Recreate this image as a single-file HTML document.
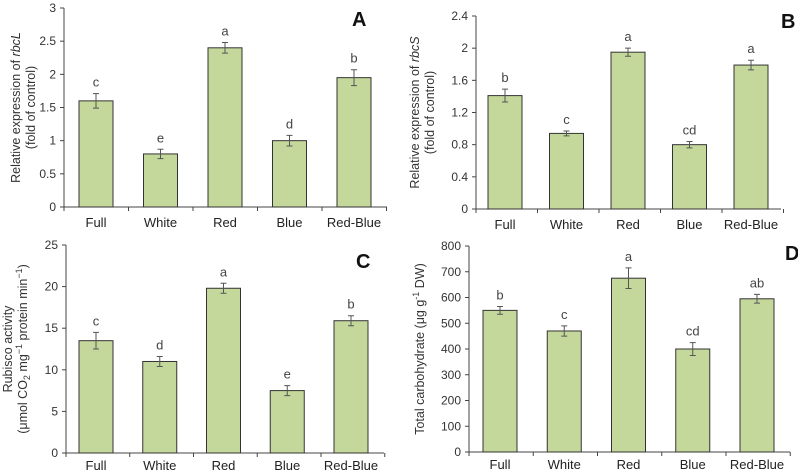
<!DOCTYPE html>
<html><head><meta charset="utf-8"><style>
body{margin:0;background:#fff;}
svg{display:block;font-family:"Liberation Sans",Arial,sans-serif;}
</style></head><body>
<svg id="fig" width="798" height="471" viewBox="0 0 798 471"></svg>
<script>
const categories=["Full","White","Red","Blue","Red-Blue"];
const valuesA=[1.6,0.8,2.4,1.0,1.95];
const errA=[0.11,0.07,0.08,0.08,0.12];
const lettersA=["c","e","a","d","b"];
const ticksA=[0,0.5,1,1.5,2,2.5,3];
const tickLabelsA=["0","0.5","1","1.5","2","2.5","3"];
const valuesB=[1.41,0.94,1.95,0.8,1.79];
const errB=[0.08,0.03,0.05,0.04,0.06];
const lettersB=["b","c","a","cd","a"];
const ticksB=[0,0.4,0.8,1.2,1.6,2,2.4];
const tickLabelsB=["0","0.4","0.8","1.2","1.6","2","2.4"];
const valuesC=[13.5,11.0,19.8,7.5,15.9];
const errC=[1.0,0.6,0.6,0.6,0.6];
const lettersC=["c","d","a","e","b"];
const ticksC=[0,5,10,15,20,25];
const tickLabelsC=["0","5","10","15","20","25"];
const valuesD=[550,470,675,400,595];
const errD=[15,20,40,25,17];
const lettersD=["b","c","a","cd","ab"];
const ticksD=[0,100,200,300,400,500,600,700,800];
const tickLabelsD=["0","100","200","300","400","500","600","700","800"];

const NS="http://www.w3.org/2000/svg";
const svg=document.getElementById('fig');
function mk(tag,attrs,parent,text){const e=document.createElementNS(NS,tag);for(const k in attrs)e.setAttribute(k,attrs[k]);if(text!==undefined)e.textContent=text;(parent||svg).appendChild(e);return e;}

function panel(cfg){
  const g=mk('g',{});
  
  
  const max=cfg.ticks[cfg.ticks.length-1];
  const y=v=>cfg.y0-(v/max)*(cfg.y0-cfg.yTop);
  const step=(cfg.cLast-cfg.cFirst)/(categories.length-1);
  const x=i=>cfg.cFirst+i*step;
  const ya=mk('line',{x1:cfg.x0,y1:cfg.yTop,x2:cfg.x0,y2:cfg.y0,stroke:'#444','stroke-width':1},g);
  
  const xa=mk('line',{x1:cfg.x0,y1:cfg.y0,x2:cfg.xEnd,y2:cfg.y0,stroke:'#444','stroke-width':1},g);
  
  cfg.ticks.forEach((t,i)=>{
    mk('line',{x1:cfg.x0-4,y1:y(t),x2:cfg.x0,y2:y(t),stroke:'#444'},g);
    const tl=mk('text',{x:cfg.x0-8,y:y(t)+4,'text-anchor':'end','font-size':12,fill:'#333'},g,cfg.tickLabels[i]);
    
  });
  for(let i=0;i<=categories.length;i++){
    const xx=cfg.x0+ (i)*step;
    mk('line',{x1:xx,y1:cfg.y0,x2:xx,y2:cfg.y0+4,stroke:'#444'},g);
  }
  categories.forEach((c,i)=>{
    const v=cfg.values[i],e=cfg.err[i];
    const b=mk('rect',{x:x(i)-17,y:y(v),width:34,height:cfg.y0-y(v),fill:'#c4d89b',stroke:'#333','stroke-width':1},g);
    
    const eb=mk('path',{d:`M${x(i)} ${y(v+e)}V${y(v-e)}M${x(i)-3} ${y(v+e)}H${x(i)+3}M${x(i)-3} ${y(v-e)}H${x(i)+3}`,stroke:'#555',fill:'none','stroke-width':1},g);
    
    const lt=mk('text',{x:x(i),y:y(v+e)-7,'text-anchor':'middle','font-size':13,fill:'#444'},g,cfg.letters[i]);
    
    const cl=mk('text',{x:x(i),y:cfg.labelY,'text-anchor':'middle','font-size':13,fill:'#222'},g,c);
    
  });
  const pl=mk('text',{x:cfg.letterX,y:cfg.letterY,'font-size':20,'font-weight':'bold',fill:'#111'},g,cfg.id);
  
  const cy=(cfg.y0+cfg.yTop)/2;
  const at=mk('text',{transform:`translate(${cfg.titleX},${cy}) rotate(-90)`,'text-anchor':'middle','font-size':12.5,fill:'#333'},g);
  
  cfg.title(at);
}
function ts(parent,attrs,text){return mk('tspan',attrs,parent,text);}

panel({id:'A',values:valuesA,err:errA,letters:lettersA,ticks:ticksA,tickLabels:tickLabelsA,
 x0:64,xEnd:387,yTop:8,y0:207,cFirst:96,cLast:354,labelY:227,letterX:352,letterY:26,titleX:20,
 title:t=>{ts(t,{x:0,dy:0},'Relative expression of ');ts(t,{'font-style':'italic'},'rbcL');ts(t,{x:0,dy:15},'(fold of control)');}});
panel({id:'B',values:valuesB,err:errB,letters:lettersB,ticks:ticksB,tickLabels:tickLabelsB,
 x0:476,xEnd:781,yTop:16,y0:209,cFirst:505,cLast:751,labelY:229,letterX:781,letterY:28,titleX:419,
 title:t=>{ts(t,{x:0,dy:0},'Relative expression of ');ts(t,{'font-style':'italic'},'rbcS');ts(t,{x:0,dy:15},'(fold of control)');}});
panel({id:'C',values:valuesC,err:errC,letters:lettersC,ticks:ticksC,tickLabels:tickLabelsC,
 x0:66,xEnd:384,yTop:245,y0:453,cFirst:96,cLast:351,labelY:470,letterX:356,letterY:268,titleX:12,
 title:t=>{ts(t,{x:0,dy:0},'Rubisco activity');ts(t,{x:0,dy:15},'(μmol CO');ts(t,{'font-size':9,dy:3},'2');ts(t,{dy:-3},' mg');ts(t,{'font-size':9,dy:-5},'−1');ts(t,{dy:5},' protein min');ts(t,{'font-size':9,dy:-5},'−1');ts(t,{dy:5},')');}});
panel({id:'D',values:valuesD,err:errD,letters:lettersD,ticks:ticksD,tickLabels:tickLabelsD,
 x0:469,xEnd:790,yTop:246,y0:452,cFirst:500,cLast:757,labelY:469,letterX:785,letterY:260,titleX:424,
 title:t=>{ts(t,{},'Total carbohydrate  (μg g');ts(t,{'font-size':9,dy:-5},'-1');ts(t,{dy:5},' DW)');}});
</script>
</body></html>
